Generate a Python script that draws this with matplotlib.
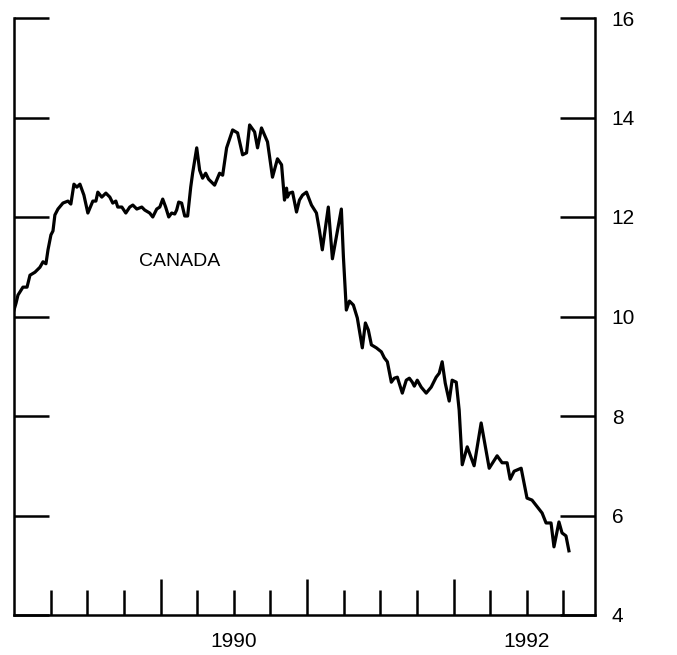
import matplotlib
matplotlib.use("Agg")
import matplotlib.pyplot as plt

plt.rcParams['font.family'] = ['Liberation Sans', 'DejaVu Sans']

# decimal-year dates and rate values (percent)
dates = [
    1989.000, 1989.014, 1989.027, 1989.061, 1989.089, 1989.109, 1989.143, 1989.177, 1989.198, 1989.218,
    1989.232, 1989.252, 1989.266, 1989.279, 1989.300, 1989.334, 1989.368, 1989.388, 1989.409, 1989.429,
    1989.450, 1989.477, 1989.504, 1989.538, 1989.559, 1989.572, 1989.599, 1989.627, 1989.654, 1989.674,
    1989.695, 1989.708, 1989.736, 1989.763, 1989.790, 1989.811, 1989.838, 1989.872, 1989.892, 1989.926,
    1989.947, 1989.974, 1989.995, 1990.015, 1990.035, 1990.056, 1990.076, 1990.097, 1990.110, 1990.124,
    1990.144, 1990.165, 1990.185, 1990.206, 1990.219, 1990.247, 1990.267, 1990.287, 1990.308, 1990.328,
    1990.369, 1990.403, 1990.424, 1990.451, 1990.492, 1990.526, 1990.560, 1990.587, 1990.608, 1990.642,
    1990.662, 1990.689, 1990.730, 1990.764, 1990.798, 1990.826, 1990.846, 1990.860, 1990.866, 1990.880,
    1990.901, 1990.928, 1990.948, 1990.969, 1990.996, 1991.030, 1991.064, 1991.084, 1991.104, 1991.145,
    1991.173, 1991.200, 1991.234, 1991.248, 1991.268, 1991.289, 1991.316, 1991.343, 1991.377, 1991.398,
    1991.418, 1991.439, 1991.473, 1991.507, 1991.527, 1991.548, 1991.575, 1991.595, 1991.616, 1991.650,
    1991.677, 1991.698, 1991.718, 1991.732, 1991.752, 1991.779, 1991.813, 1991.847, 1991.881, 1991.902,
    1991.922, 1991.943, 1991.970, 1991.990, 1992.018, 1992.038, 1992.059, 1992.093, 1992.140, 1992.188,
    1992.243, 1992.297, 1992.331, 1992.365, 1992.386, 1992.413, 1992.461, 1992.501, 1992.535, 1992.604,
    1992.631, 1992.665, 1992.685, 1992.719, 1992.740, 1992.767, 1992.787,
]
rates = [
    10.13, 10.27, 10.43, 10.59, 10.59, 10.83, 10.89, 10.99, 11.10, 11.06,
    11.34, 11.64, 11.72, 12.04, 12.16, 12.28, 12.32, 12.26, 12.66, 12.60,
    12.66, 12.44, 12.08, 12.32, 12.32, 12.50, 12.40, 12.48, 12.40, 12.28,
    12.32, 12.20, 12.20, 12.08, 12.20, 12.24, 12.16, 12.20, 12.14, 12.08,
    12.00, 12.16, 12.20, 12.36, 12.20, 12.00, 12.08, 12.06, 12.14, 12.30,
    12.28, 12.02, 12.02, 12.60, 12.88, 13.39, 12.94, 12.78, 12.88, 12.76,
    12.64, 12.88, 12.84, 13.39, 13.75, 13.69, 13.25, 13.29, 13.85, 13.71,
    13.39, 13.79, 13.51, 12.80, 13.17, 13.05, 12.34, 12.58, 12.40, 12.48,
    12.50, 12.10, 12.34, 12.44, 12.50, 12.24, 12.08, 11.74, 11.34, 12.20,
    11.16, 11.60, 12.16, 11.20, 10.13, 10.31, 10.23, 9.97, 9.37, 9.87,
    9.73, 9.43, 9.37, 9.29, 9.17, 9.09, 8.68, 8.76, 8.78, 8.46,
    8.72, 8.76, 8.68, 8.60, 8.72, 8.58, 8.46, 8.58, 8.78, 8.86,
    9.09, 8.66, 8.30, 8.72, 8.68, 8.12, 7.02, 7.38, 7.00, 7.86,
    6.95, 7.20, 7.06, 7.06, 6.73, 6.89, 6.95, 6.35, 6.31, 6.05,
    5.85, 5.85, 5.37, 5.87, 5.65, 5.59, 5.29,
]

y_ticks = [4, 6, 8, 10, 12, 14, 16]
year_ticks = [1990, 1991, 1992]
quarter_ticks = [1989.25, 1989.5, 1989.75, 1990.25, 1990.5, 1990.75,
                 1991.25, 1991.5, 1991.75, 1992.25, 1992.5, 1992.75]
year_label_pos = [1990.5, 1992.5]
year_labels = ["1990", "1992"]

fig = plt.figure(figsize=(6.77, 6.55), dpi=100)
ax = fig.add_axes([14 / 677, 1 - 615 / 655, (595 - 14) / 677, (615 - 18) / 655])

ax.plot(dates, rates, color='black', lw=2.3, solid_joinstyle='round')

ax.set_xlim(1989, 1992.965)
ax.set_ylim(4, 16)

for s in ['left', 'right', 'bottom']:
    ax.spines[s].set_linewidth(1.8)
ax.spines['top'].set_visible(False)

# y axis: ticks on both sides inward, labels on right
ax.set_yticks(y_ticks)
ax.tick_params(axis='y', which='major', direction='in', length=25, width=1.8,
               left=True, right=True, labelleft=False, labelright=True,
               labelsize=15, pad=12)

# x axis: quarterly short ticks (no labels)
ax.set_xticks(quarter_ticks)
ax.tick_params(axis='x', which='major', direction='in', length=18, width=1.8,
               labelbottom=False)

# long ticks at year boundaries
sec = ax.secondary_xaxis('bottom')
sec.set_xticks(year_ticks)
sec.tick_params(direction='in', length=26, width=1.8, labelbottom=False)
sec.spines['bottom'].set_visible(False)

# year labels centred on the year
lab = ax.secondary_xaxis('bottom')
lab.set_xticks(year_label_pos)
lab.set_xticklabels(year_labels)
lab.tick_params(length=0, labelsize=15, pad=12)
lab.spines['bottom'].set_visible(False)

ax.text(1990.13, 11.1, "CANADA", fontsize=14, ha='center', va='center')

fig.savefig("out.png", dpi=100)
